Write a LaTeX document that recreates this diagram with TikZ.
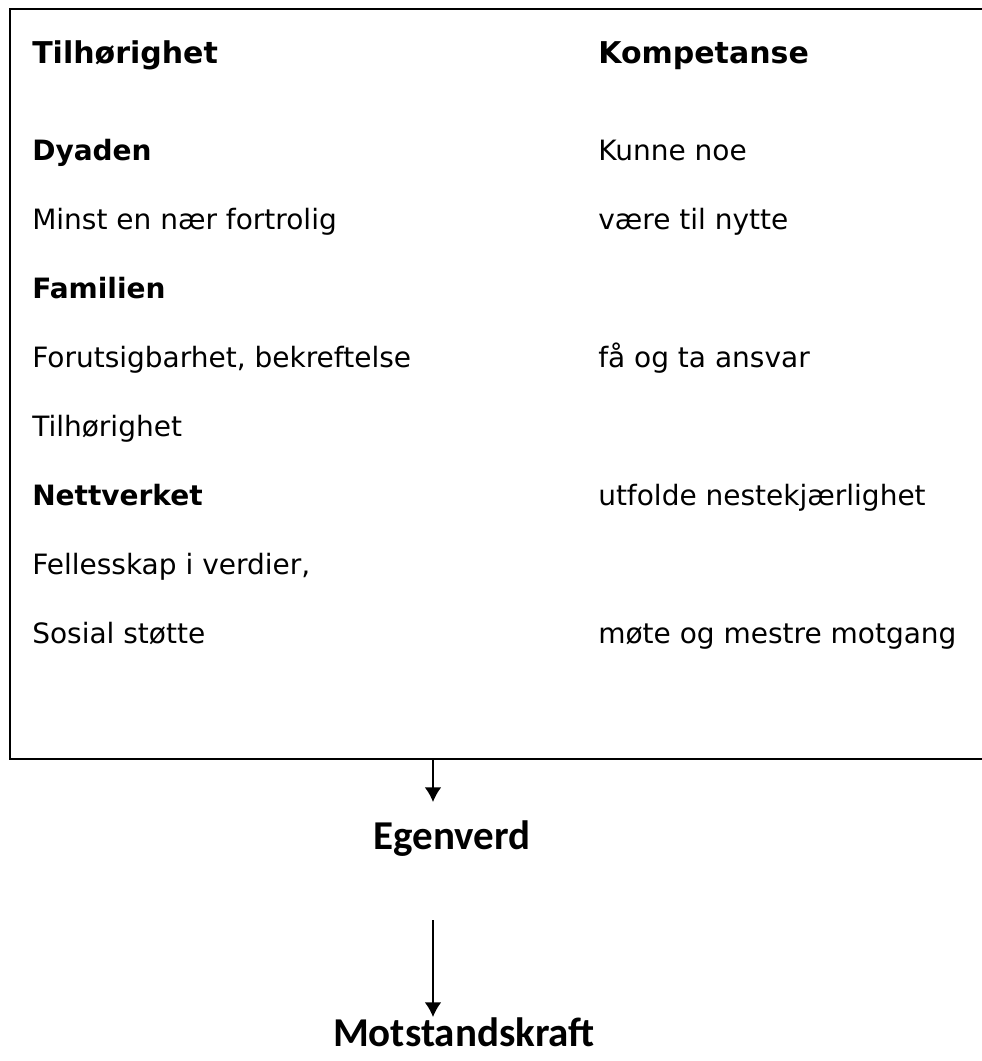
\documentclass[tikz,border=0pt]{standalone}
\usepackage{fontspec}
\usepackage{tikz}
\usetikzlibrary{arrows.meta,positioning}
\setmainfont{DejaVu Sans}
\newfontfamily\calibrifont{Carlito}

\begin{document}
\begin{tikzpicture}[x=0.75pt, y=-0.75pt,
    txt/.style={anchor=base west, inner sep=0pt, font=\fontsize{21}{25}\selectfont},
    txtbold/.style={txt, font=\fontsize{21}{25}\selectfont\bfseries},
    head/.style={txt, font=\fontsize{22.5}{27}\selectfont\bfseries},
    big/.style={anchor=base, inner sep=0pt, font=\fontsize{30.75}{36}\selectfont\calibrifont\bfseries},
    flow/.style={-{Latex[length=11pt,width=12.5pt]}, line width=1.1pt},
    boxline/.style={line width=1.5pt}]
    \useasboundingbox (0,0) rectangle (982,1061);
    \draw[boxline] (982,9) -- (10,9) -- (10,759) -- (982,759);
    \coordinate (boxout) at (433,759);

    \node[head] (tilh) at (32,63) {Tilhørighet};
    \node[head] (komp) at (598,63) {Kompetanse};

    \node[txtbold] (dyad) at (32,160) {Dyaden};
    \node[txt] (minst) at (32,229) {Minst en nær fortrolig};
    \node[txtbold] (fam) at (32,298) {Familien};
    \node[txt] (forut) at (32,367) {Forutsigbarhet, bekreftelse};
    \node[txt] (tilh2) at (32,436) {Tilhørighet};
    \node[txtbold] (nett) at (32,505) {Nettverket};
    \node[txt] (felles) at (32,574) {Fellesskap i verdier,};
    \node[txt] (sosial) at (32,643) {Sosial støtte};

    \node[txt] (kunne) at (598,160) {Kunne noe};
    \node[txt] (nytte) at (598,229) {være til nytte};
    \node[txt] (ansvar) at (598,367) {få og ta ansvar};
    \node[txt] (neste) at (598,505) {utfolde nestekjærlighet};
    \node[txt] (motg) at (598,643) {møte og mestre motgang};

    \node[big] (egen) at (452,849) {Egenverd};
    \node[big] (mots) at (464,1046) {Motstandskraft};

    \draw[flow, shorten >=13.5pt] (boxout) -- (boxout |- egen.north);
    \draw[flow, shorten <=48pt] (boxout |- egen.south) -- (boxout |- mots.north);
\end{tikzpicture}
\end{document}
